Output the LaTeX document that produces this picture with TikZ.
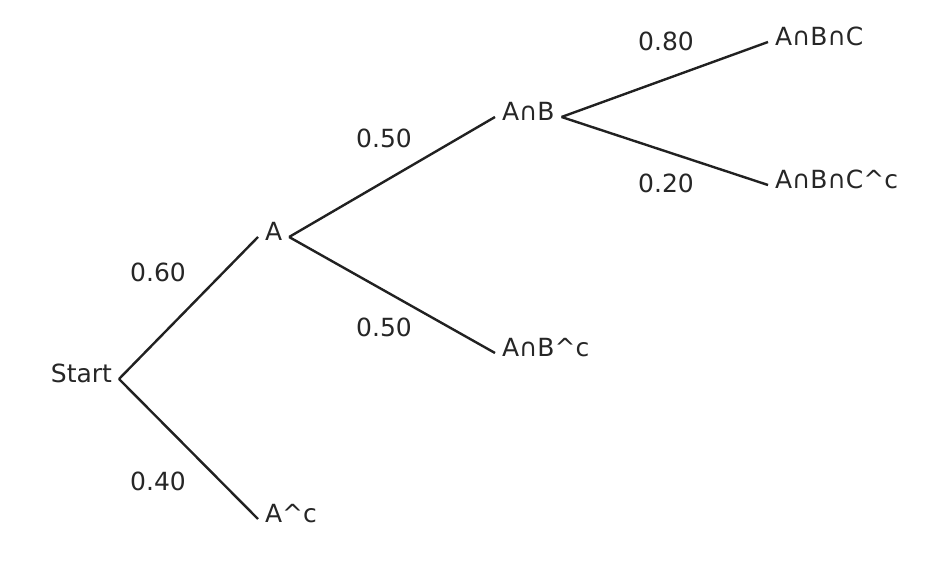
\documentclass[tikz,border=0pt]{standalone}
\usepackage{fontspec}
\setmainfont{DejaVu Sans}
\begin{document}
\begin{tikzpicture}[x=1pt,y=1pt,
  every node/.style={font=\fontsize{25}{30}\selectfont, text=black!85},
  st/.style={inner sep=7pt, outer sep=0pt, text height=0.73em, text depth=0pt},
  lb/.style={inner sep=0pt},
  ln/.style={line width=2.4pt, draw=black!87}]
\useasboundingbox (0,0) rectangle (949,561);
\node[st,anchor=east] (S) at (119,182) {Start};
\node[st,anchor=west] (A) at (258,324) {A};
\node[st,anchor=west] (Ac) at (258,42) {A\textasciicircum c};
\node[st,anchor=west] (AB) at (495,444) {A∩B};
\node[st,anchor=west] (ABc) at (495,208) {A∩B\textasciicircum c};
\node[st,anchor=west] (ABC) at (768,519) {A∩B∩C};
\node[st,anchor=west] (ABCc) at (768,376) {A∩B∩C\textasciicircum c};
\draw[ln] (S.east) -- (A.west);
\draw[ln] (S.east) -- (Ac.west);
\draw[ln] (A.east) -- (AB.west);
\draw[ln] (A.east) -- (ABc.west);
\draw[ln] (AB.east) -- (ABC.west);
\draw[ln] (AB.east) -- (ABCc.west);
\node[lb] (l1) at (158,289) {0.60};
\node[lb] (l2) at (158,80) {0.40};
\node[lb] (l3) at (384,423) {0.50};
\node[lb] (l4) at (384,234) {0.50};
\node[lb] (l5) at (666,520) {0.80};
\node[lb] (l6) at (666,378) {0.20};
\end{tikzpicture}
\end{document}
